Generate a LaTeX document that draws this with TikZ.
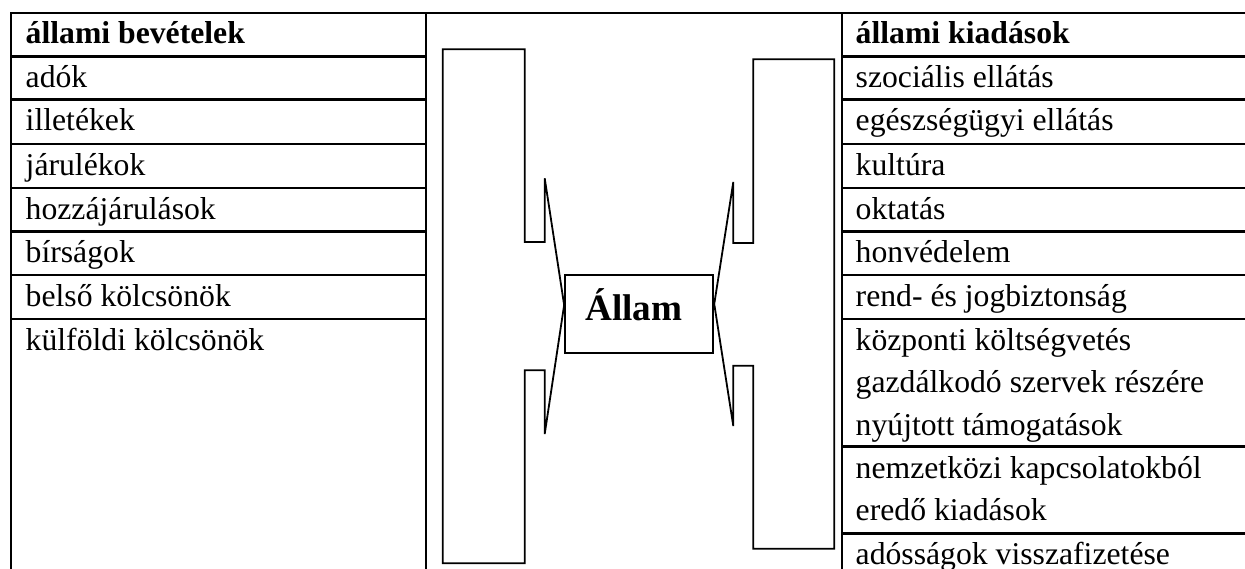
\documentclass[tikz,border=0pt]{standalone}
\usepackage{fontspec}
\setmainfont{Liberation Serif}
\begin{document}
\begin{tikzpicture}[x=1pt,y=-1pt,
  gridline/.style={line width=2.6pt, line cap=rect},
  shapeline/.style={line width=1.8pt, line join=miter},
  txt/.style={anchor=base west, inner sep=0pt, font=\fontsize{31.7}{42.6}\selectfont},
  hdr/.style={txt, font=\bfseries\fontsize{31.7}{42.6}\selectfont},
  bigbold/.style={anchor=base west, inner sep=0pt, font=\bfseries\fontsize{37.2}{44}\selectfont},
  boxnode/.style={draw, line width=1.8pt, minimum width=148.3pt, minimum height=77.4pt, inner sep=0pt}]
\useasboundingbox (0,0) rectangle (1245,569);

% table frame
\draw[gridline] (11,13) -- (1260,13);
\draw[gridline] (11,13) -- (11,580);
\draw[gridline] (426,13) -- (426,580);
\draw[gridline] (842,13) -- (842,580);
\foreach \y in {56.7,99.5,144,188,231.5,275,319}
  \draw[gridline] (11,\y) -- (426,\y);
\foreach \y in {56.7,99.5,144,188,231.5,275,319,446.7,533.3}
  \draw[gridline] (842,\y) -- (1260,\y);

% left column
\node[hdr] (L0) at (25.5,44) {állami bevételek};
\node[txt] (L1) at (25.5,88) {adók};
\node[txt] (L2) at (25.5,130.8) {illetékek};
\node[txt] (L3) at (25.5,175.3) {járulékok};
\node[txt] (L4) at (25.5,219.3) {hozzájárulások};
\node[txt] (L5) at (25.5,262.8) {bírságok};
\node[txt] (L6) at (25.5,306.3) {belső kölcsönök};
\node[txt] (L7) at (25.5,350.3) {külföldi kölcsönök};

% right column
\node[hdr] (R0) at (855.5,44) {állami kiadások};
\node[txt] (R1) at (855.5,88) {szociális ellátás};
\node[txt] (R2) at (855.5,130.8) {egészségügyi ellátás};
\node[txt] (R3) at (855.5,175.3) {kultúra};
\node[txt] (R4) at (855.5,219.3) {oktatás};
\node[txt] (R5) at (855.5,262.8) {honvédelem};
\node[txt] (R6) at (855.5,306.3) {rend- és jogbiztonság};
\node[txt] (R7a) at (855.5,350.3) {központi költségvetés};
\node[txt] (R7b) at (855.5,392.9) {gazdálkodó szervek részére};
\node[txt] (R7c) at (855.5,435.5) {nyújtott támogatások};
\node[txt] (R8a) at (855.5,478) {nemzetközi kapcsolatokból};
\node[txt] (R8b) at (855.5,520.6) {eredő kiadások};
\node[txt] (R9) at (855.5,564.6) {adósságok visszafizetése};

% central box
\node[boxnode] (allam) at (639.2,314) {};
\node[bigbold] (allamtxt) at (585,320.7) {Állam};

% left bracket shape
\draw[shapeline] (442.7,49.3) -- (524.7,49.3) -- (524.7,242) -- (544.7,242) -- (544.7,178.3)
  -- ([yshift=9pt]allam.west) -- (544.7,434) -- (544.7,370.3) -- (524.7,370.3)
  -- (524.7,563.3) -- (442.7,563.3) -- cycle;

% right bracket shape
\draw[shapeline] (834.3,59.3) -- (753.3,59.3) -- (753.3,243) -- (733.3,243) -- (733.3,182)
  -- ([yshift=10pt]allam.east) -- (733.3,426) -- (733.3,365.7) -- (753.3,365.7)
  -- (753.3,548.7) -- (834.3,548.7) -- cycle;
\end{tikzpicture}
\end{document}
